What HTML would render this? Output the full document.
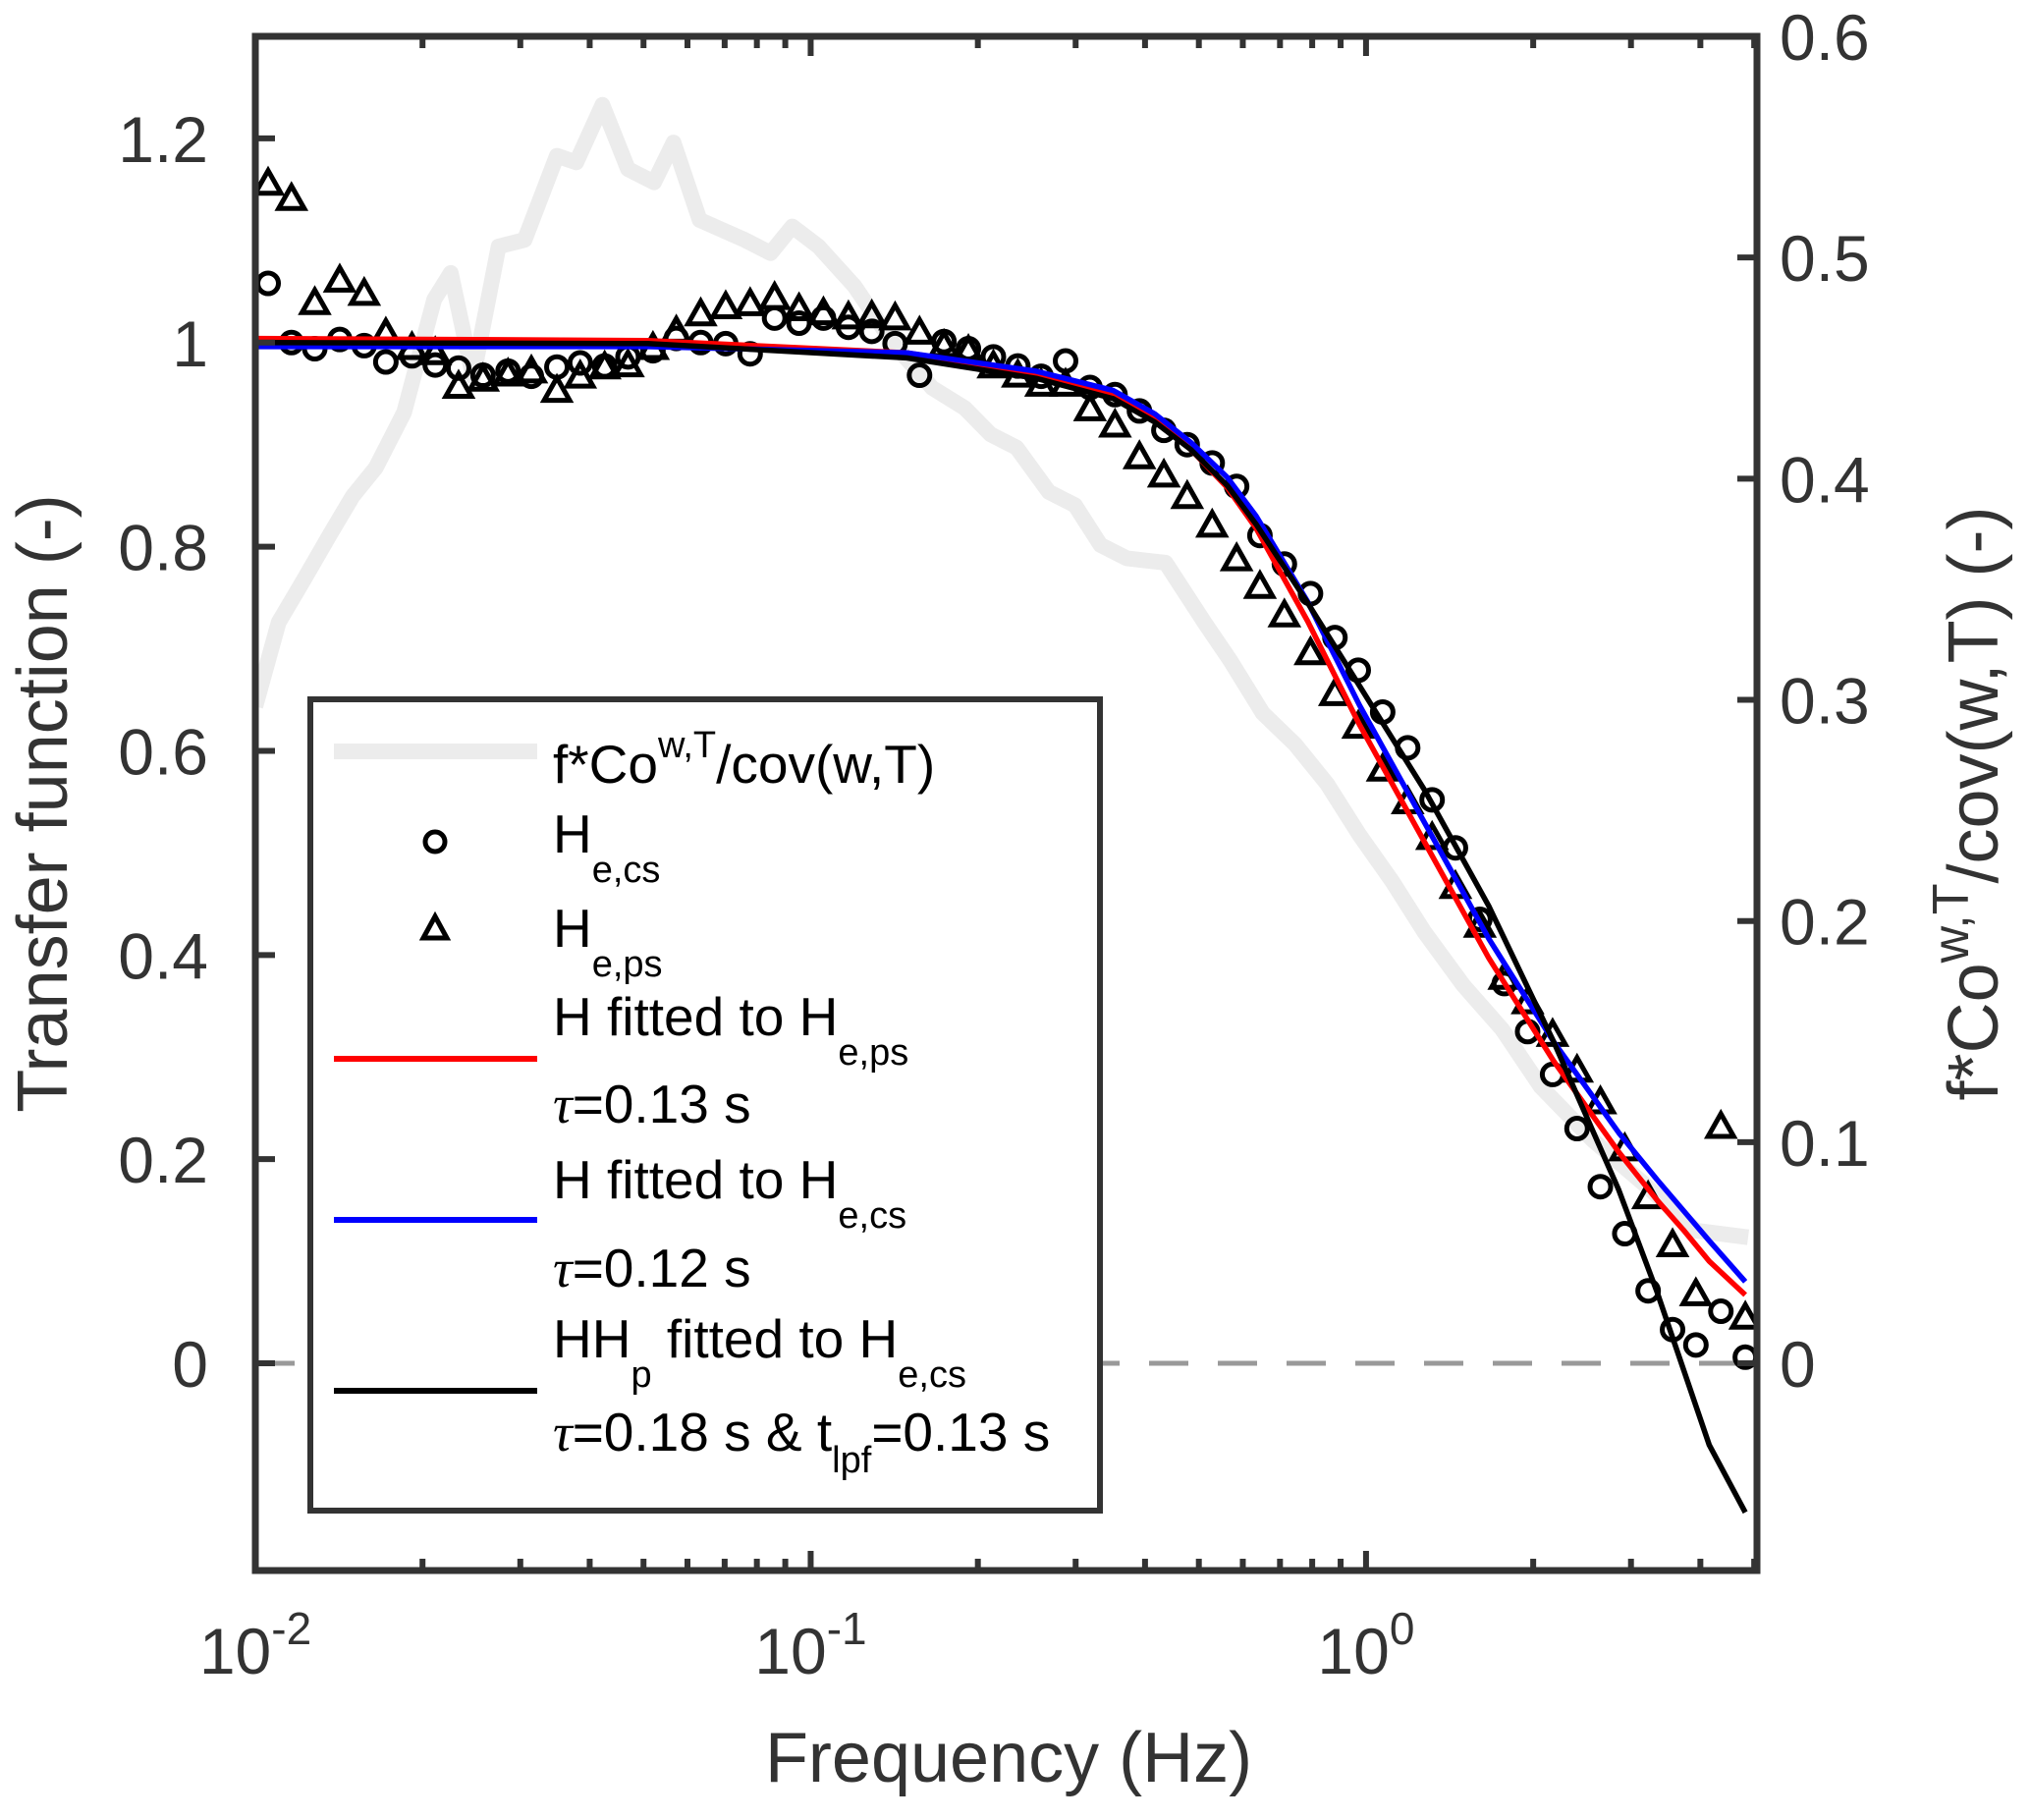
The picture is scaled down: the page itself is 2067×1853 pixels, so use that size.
<!DOCTYPE html>
<html><head><meta charset="utf-8"><style>
body{margin:0;background:#fff}
svg text{font-family:"Liberation Sans",Arial,sans-serif;fill:#333}
</style></head><body>
<svg id="chart" width="2067" height="1848" viewBox="0 0 2067 1848" xmlns="http://www.w3.org/2000/svg">
<g id="plot"></g>
<g id="axes"></g>
<g id="legend">
<rect x="316" y="712" width="804" height="826" fill="#fff" stroke="#333" stroke-width="6"/>
<g>
<line x1="340" y1="765" x2="547" y2="765" stroke="#ececec" stroke-width="16"/>
<text x="563" y="797" font-size="55" style="fill:#000">f*Co<tspan dy="-26" font-size="38">w,T</tspan><tspan dy="26">/cov(w,T)</tspan></text></g>
<g>
<circle cx="443" cy="857" r="10" fill="none" stroke="#000" stroke-width="5"/>
<text x="563" y="868" font-size="55" style="fill:#000">H<tspan dy="30" font-size="38">e,cs</tspan></text></g>
<g>
<path d="M443,933 L455,955 L431,955 Z" fill="none" stroke="#000" stroke-width="5"/>
<text x="563" y="964" font-size="55" style="fill:#000">H<tspan dy="30" font-size="38">e,ps</tspan></text></g>
<g>
<line x1="340" y1="1078" x2="547" y2="1078" stroke="#ff0000" stroke-width="6"/>
<text x="563" y="1054" font-size="55" style="fill:#000">H fitted to H<tspan dy="30" font-size="38">e,ps</tspan></text>
<text x="563" y="1143" font-size="55" style="fill:#000"><tspan font-style="italic" font-family="Liberation Serif">τ</tspan>=0.13 s</text></g>
<g>
<line x1="340" y1="1242" x2="547" y2="1242" stroke="#0000ff" stroke-width="6"/>
<text x="563" y="1220" font-size="55" style="fill:#000">H fitted to H<tspan dy="30" font-size="38">e,cs</tspan></text>
<text x="563" y="1310" font-size="55" style="fill:#000"><tspan font-style="italic" font-family="Liberation Serif">τ</tspan>=0.12 s</text></g>
<g>
<line x1="340" y1="1416" x2="547" y2="1416" stroke="#000" stroke-width="6"/>
<text x="563" y="1382" font-size="55" style="fill:#000">HH<tspan dy="30" font-size="38">p</tspan><tspan dy="-30"> fitted to H</tspan><tspan dy="30" font-size="38">e,cs</tspan></text>
<text x="563" y="1477" font-size="55" style="fill:#000"><tspan font-style="italic" font-family="Liberation Serif">τ</tspan>=0.18 s &amp; t<tspan dy="22" font-size="38">lpf</tspan><tspan dy="-22">=0.13 s</tspan></text></g>
</g>
</svg>
<script>
const markerLogF=[-1.977,-1.935,-1.893,-1.848,-1.804,-1.765,-1.718,-1.676,-1.634,-1.590,-1.545,-1.503,-1.457,-1.415,-1.371,-1.329,-1.284,-1.242,-1.198,-1.153,-1.109,-1.065,-1.021,-0.977,-0.932,-0.890,-0.848,-0.804,-0.760,-0.716,-0.671,-0.627,-0.585,-0.541,-0.497,-0.452,-0.408,-0.364,-0.322,-0.277,-0.233,-0.191,-0.147,-0.100,-0.056,-0.014,0.030,0.075,0.119,0.161,0.205,0.249,0.291,0.336,0.380,0.422,0.466,0.508,0.552,0.594,0.639,0.683];
const heCs=[1.058,1.000,0.994,1.003,0.997,0.981,0.987,0.978,0.975,0.968,0.972,0.967,0.976,0.980,0.977,0.986,0.992,1.004,1.000,0.999,0.989,1.024,1.019,1.024,1.015,1.011,0.999,0.968,1.001,0.994,0.986,0.977,0.967,0.982,0.956,0.949,0.933,0.914,0.900,0.882,0.859,0.811,0.783,0.754,0.711,0.679,0.638,0.603,0.552,0.505,0.435,0.372,0.325,0.283,0.230,0.173,0.127,0.071,0.033,0.018,0.051,0.006];
const hePs=[1.155,1.140,1.038,1.060,1.047,1.008,0.994,0.989,0.956,0.963,0.968,0.971,0.952,0.966,0.975,0.977,0.994,1.010,1.027,1.034,1.037,1.043,1.032,1.028,1.024,1.025,1.023,1.009,0.996,0.991,0.976,0.967,0.958,0.958,0.934,0.918,0.887,0.869,0.848,0.820,0.787,0.760,0.732,0.695,0.655,0.623,0.581,0.549,0.514,0.466,0.428,0.377,0.353,0.321,0.286,0.255,0.209,0.162,0.115,0.067,0.231,0.044];
const fitLogF=[-2,-1.294,-0.827,-0.594,-0.455,-0.38,-0.315,-0.25,-0.198,-0.105,-0.012,0.105,0.221,0.338,0.455,0.524,0.571,0.618,0.683];
const fitPs=[1.004,1.002,0.99,0.97,0.95,0.925,0.895,0.858,0.818,0.727,0.626,0.511,0.397,0.296,0.207,0.16,0.131,0.10,0.067];
const fitCs=[0.996,0.996,0.99,0.972,0.953,0.93,0.902,0.868,0.83,0.746,0.645,0.530,0.416,0.315,0.226,0.18,0.150,0.12,0.080];
const fitHHp=[1.0,0.999,0.985,0.965,0.945,0.922,0.895,0.86,0.822,0.745,0.664,0.562,0.448,0.315,0.17,0.070,-0.005,-0.08,-0.146];
const coLogF=[-2,-1.958,-1.911,-1.865,-1.825,-1.783,-1.732,-1.678,-1.648,-1.608,-1.562,-1.515,-1.457,-1.422,-1.375,-1.329,-1.282,-1.247,-1.200,-1.119,-1.072,-1.033,-0.986,-0.921,-0.851,-0.781,-0.723,-0.676,-0.629,-0.571,-0.524,-0.478,-0.431,-0.361,-0.291,-0.245,-0.186,-0.128,-0.070,-0.012,0.047,0.105,0.175,0.245,0.315,0.408,0.501,0.594,0.688];
const coVal=[0.297,0.335,0.355,0.375,0.392,0.405,0.430,0.481,0.493,0.446,0.505,0.508,0.546,0.543,0.569,0.540,0.534,0.552,0.517,0.508,0.502,0.514,0.505,0.487,0.461,0.441,0.432,0.420,0.414,0.394,0.388,0.370,0.364,0.362,0.335,0.318,0.294,0.280,0.262,0.239,0.218,0.195,0.171,0.151,0.125,0.101,0.081,0.060,0.057];
const leftTicks=[0,0.2,0.4,0.6,0.8,1,1.2];
const leftTickLabels=["0","0.2","0.4","0.6","0.8","1","1.2"];
const rightTicks=[0,0.1,0.2,0.3,0.4,0.5,0.6];
const rightTickLabels=["0","0.1","0.2","0.3","0.4","0.5","0.6"];
const xDecades=[-2,-1,0];

const L=260,R=1789,T=37,B=1599;
const xmin=-2,xmax=0.704,ymin=-0.203,ymax=1.3;
const X=lf=>L+(lf-xmin)/(xmax-xmin)*(R-L);
const Y=v=>B-(v-ymin)/(ymax-ymin)*(B-T);
const Y2=v=>Y(v/0.6*1.3);
const NS="http://www.w3.org/2000/svg";
function mk(tag,attrs,parent){const e=document.createElementNS(NS,tag);for(const k in attrs)e.setAttribute(k,attrs[k]);parent.appendChild(e);return e;}
const plot=document.getElementById('plot'),axes=document.getElementById('axes');
const clip=mk('clipPath',{id:'cp'},plot);mk('rect',{x:L,y:T,width:R-L,height:B-T},clip);
const pg=mk('g',{'clip-path':'url(#cp)'},plot);

let d=coLogF.map((f,i)=>(i?'L':'M')+X(f).toFixed(1)+','+Y2(coVal[i]).toFixed(1)).join(' ');
const co=mk('path',{d:d,fill:'none',stroke:'#ececec','stroke-width':16,'stroke-linejoin':'round'},pg);



const zl=mk('line',{x1:L,x2:R,y1:Y(0),y2:Y(0),stroke:'#999','stroke-width':5,'stroke-dasharray':'40,30'},pg);



markerLogF.forEach((f,i)=>{if(i<hePs.length){const cx=X(f),cy=Y(hePs[i]);
const t=mk('path',{d:`M${cx},${cy-14} L${cx+13},${cy+9} L${cx-13},${cy+9} Z`,fill:'none',stroke:'#000','stroke-width':5},pg);

}});
markerLogF.forEach((f,i)=>{if(i<heCs.length){
const c=mk('circle',{cx:X(f),cy:Y(heCs[i]),r:10.5,fill:'none',stroke:'#000','stroke-width':5},pg);

}});

[[fitPs,'#ff0000','fit-ps-line'],[fitCs,'#0000ff','fit-cs-line'],[fitHHp,'#000','fit-hhp-line']].forEach(s=>{
const dd=fitLogF.map((f,i)=>(i?'L':'M')+X(f).toFixed(1)+','+Y(s[0][i]).toFixed(1)).join(' ');
const p=mk('path',{d:dd,fill:'none',stroke:s[1],'stroke-width':5.5,'stroke-linejoin':'round'},pg);

});

const box=mk('rect',{x:L,y:T,width:R-L,height:B-T,fill:'none',stroke:'#333','stroke-width':7},axes);


for(let dec=-2;dec<=0;dec++){for(let m=1;m<=9;m++){const lf=dec+Math.log10(m);if(lf>xmax)continue;const x=X(lf);const len=m==1?20:12;
mk('line',{x1:x,x2:x,y1:B,y2:B-len,stroke:'#333','stroke-width':6},axes);mk('line',{x1:x,x2:x,y1:T,y2:T+len,stroke:'#333','stroke-width':6},axes);}}
xDecades.forEach(dec=>{const t=mk('text',{x:X(dec),y:1704,'font-size':66,'text-anchor':'middle'},axes);t.innerHTML=`10<tspan dy="-30" font-size="46">${dec}</tspan>`;

});
leftTicks.forEach((v,i)=>{const y=Y(v);mk('line',{x1:L,x2:L+20,y1:y,y2:y,stroke:'#333','stroke-width':6},axes);
const t=mk('text',{x:212,y:y+24,'font-size':66,'text-anchor':'end'},axes);t.textContent=leftTickLabels[i];

});
rightTicks.forEach((v,i)=>{const y=Y2(v);mk('line',{x1:R,x2:R-20,y1:y,y2:y,stroke:'#333','stroke-width':6},axes);
const t=mk('text',{x:1812,y:y+24,'font-size':66},axes);t.textContent=rightTickLabels[i];

});
const xl=mk('text',{x:1027,y:1814,'font-size':72,'text-anchor':'middle'},axes);xl.textContent='Frequency (Hz)';


const yl=mk('text',{x:0,y:0,'font-size':72,'text-anchor':'middle',transform:'translate(68,818) rotate(-90)'},axes);yl.textContent='Transfer function (-)';


const yr=mk('text',{x:0,y:0,'font-size':72,'text-anchor':'middle',transform:'translate(2034,818) rotate(-90)'},axes);yr.innerHTML='f*Co<tspan dy="-30" font-size="52">w,T</tspan><tspan dy="30">/cov(w,T) (-)</tspan>';


</script>
</body></html>
